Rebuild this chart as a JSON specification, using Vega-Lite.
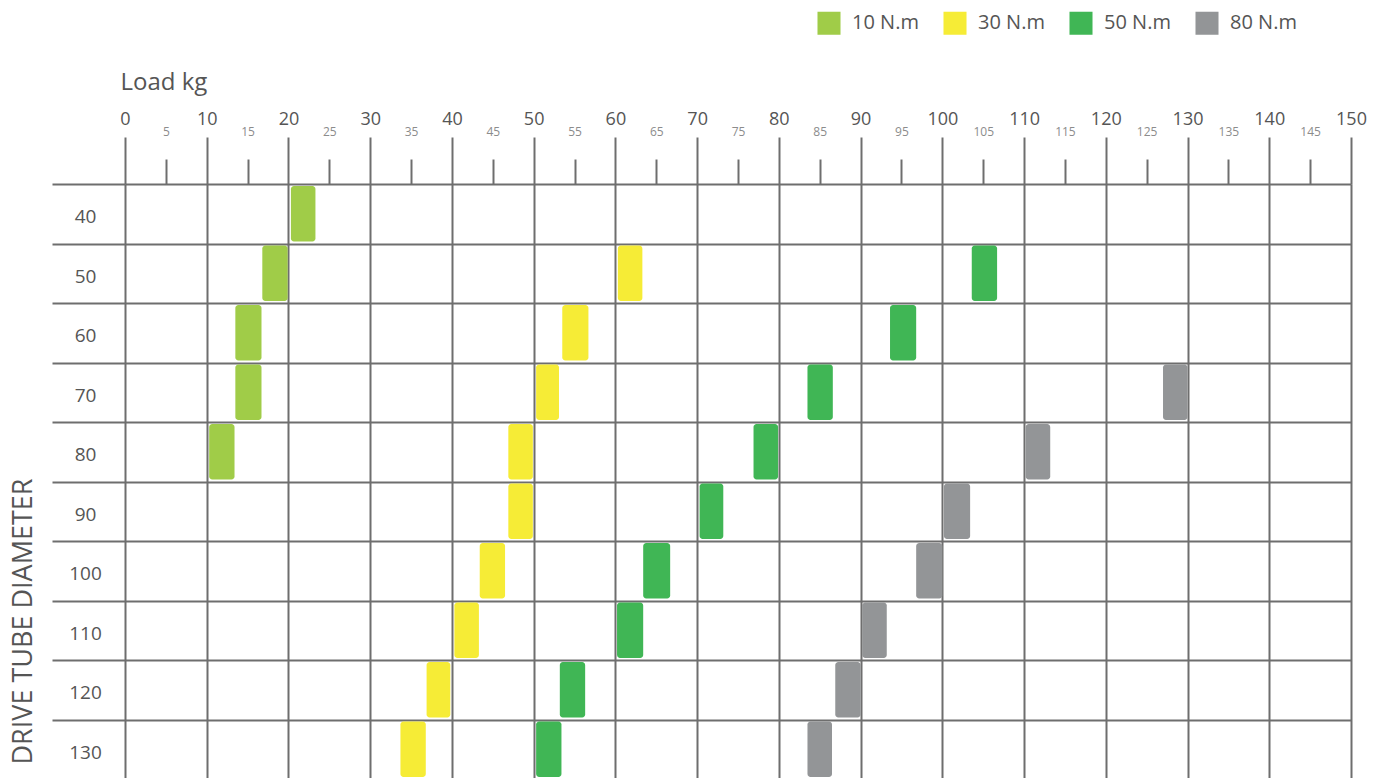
{
  "$schema": "https://vega.github.io/schema/vega-lite/v6.json",
  "width": 1226,
  "height": 595,
  "autosize": {"type": "none"},
  "padding": {"left": 125, "top": 184, "right": 30, "bottom": 0},
  "background": "white",
  "config": {"view": {"stroke": null}, "font": "Open Sans"},
  "data": {
    "values": [
      {"diameter": 40, "torque": "10 N.m", "start": 20.3, "end": 23.3},
      {"diameter": 50, "torque": "10 N.m", "start": 16.8, "end": 19.9},
      {"diameter": 50, "torque": "30 N.m", "start": 60.3, "end": 63.3},
      {"diameter": 50, "torque": "50 N.m", "start": 103.6, "end": 106.7},
      {"diameter": 60, "torque": "10 N.m", "start": 13.5, "end": 16.7},
      {"diameter": 60, "torque": "30 N.m", "start": 53.5, "end": 56.7},
      {"diameter": 60, "torque": "50 N.m", "start": 93.6, "end": 96.8},
      {"diameter": 70, "torque": "10 N.m", "start": 13.5, "end": 16.7},
      {"diameter": 70, "torque": "30 N.m", "start": 50.3, "end": 53.1},
      {"diameter": 70, "torque": "50 N.m", "start": 83.5, "end": 86.6},
      {"diameter": 70, "torque": "80 N.m", "start": 127.0, "end": 130.0},
      {"diameter": 80, "torque": "10 N.m", "start": 10.3, "end": 13.4},
      {"diameter": 80, "torque": "30 N.m", "start": 46.9, "end": 49.9},
      {"diameter": 80, "torque": "50 N.m", "start": 76.9, "end": 79.9},
      {"diameter": 80, "torque": "80 N.m", "start": 110.2, "end": 113.2},
      {"diameter": 90, "torque": "30 N.m", "start": 46.9, "end": 49.9},
      {"diameter": 90, "torque": "50 N.m", "start": 70.3, "end": 73.2},
      {"diameter": 90, "torque": "80 N.m", "start": 100.2, "end": 103.4},
      {"diameter": 100, "torque": "30 N.m", "start": 43.4, "end": 46.5},
      {"diameter": 100, "torque": "50 N.m", "start": 63.4, "end": 66.7},
      {"diameter": 100, "torque": "80 N.m", "start": 96.8, "end": 100.0},
      {"diameter": 110, "torque": "30 N.m", "start": 40.3, "end": 43.3},
      {"diameter": 110, "torque": "50 N.m", "start": 60.2, "end": 63.4},
      {"diameter": 110, "torque": "80 N.m", "start": 90.2, "end": 93.2},
      {"diameter": 120, "torque": "30 N.m", "start": 36.9, "end": 39.8},
      {"diameter": 120, "torque": "50 N.m", "start": 53.2, "end": 56.3},
      {"diameter": 120, "torque": "80 N.m", "start": 86.9, "end": 90.0},
      {"diameter": 130, "torque": "30 N.m", "start": 33.7, "end": 36.8},
      {"diameter": 130, "torque": "50 N.m", "start": 50.3, "end": 53.4},
      {"diameter": 130, "torque": "80 N.m", "start": 83.5, "end": 86.5}
    ]
  },
  "mark": {"type": "bar", "cornerRadius": 3, "height": {"band": 0.93}},
  "encoding": {
    "y": {
      "field": "diameter",
      "type": "ordinal",
      "scale": {"paddingInner": 0, "paddingOuter": 0},
      "axis": {
        "orient": "left",
        "title": "DRIVE TUBE DIAMETER",
        "titleFontSize": 27,
        "titleFontWeight": "normal",
        "titleColor": "#555555",
        "titleAngle": 270,
        "titleAlign": "left",
        "titleBaseline": "middle",
        "titleX": -102,
        "titleY": 580,
        "tickBand": "extent",
        "grid": true,
        "gridColor": "#6e6e6e",
        "gridWidth": 2,
        "gridOpacity": 1,
        "ticks": true,
        "tickSize": 73,
        "tickColor": "#6e6e6e",
        "tickWidth": 2,
        "domain": false,
        "labelPadding": -33,
        "labelAlign": "center",
        "labelBaseline": "middle",
        "labelOffset": 3,
        "labelAngle": 0,
        "labelFontSize": 19,
        "labelColor": "#555555"
      }
    },
    "x": {
      "field": "start",
      "type": "quantitative",
      "scale": {"domain": [0, 150], "nice": false, "zero": false},
      "axis": {
        "orient": "top",
        "values": [0, 5, 10, 15, 20, 25, 30, 35, 40, 45, 50, 55, 60, 65, 70, 75, 80, 85, 90, 95, 100, 105, 110, 115, 120, 125, 130, 135, 140, 145, 150],
        "title": "Load kg",
        "titleFontSize": 24,
        "titleFontWeight": "normal",
        "titleColor": "#555555",
        "titleAnchor": "start",
        "titleAlign": "left",
        "titleBaseline": "alphabetic",
        "titleX": -5,
        "titleY": -95,
        "grid": true,
        "gridColor": "#6e6e6e",
        "gridWidth": 2,
        "gridOpacity": {"condition": {"test": "datum.value % 10 === 0", "value": 1}, "value": 0},
        "ticks": true,
        "tickColor": "#6e6e6e",
        "tickWidth": 2,
        "tickSize": {"condition": {"test": "datum.value % 10 === 0", "value": 47}, "value": 25},
        "domain": false,
        "labelFontSize": {"condition": {"test": "datum.value % 10 === 0", "value": 18}, "value": 12},
        "labelColor": {"condition": {"test": "datum.value % 10 === 0", "value": "#555555"}, "value": "#8c8c8c"},
        "labelPadding": {"condition": {"test": "datum.value % 10 === 0", "value": 13}, "value": 24},
        "labelBaseline": "alphabetic",
        "labelAngle": 0,
        "labelFlush": false,
        "labelOverlap": false
      }
    },
    "x2": {"field": "end"},
    "color": {
      "field": "torque",
      "type": "nominal",
      "scale": {
        "domain": ["10 N.m", "30 N.m", "50 N.m", "80 N.m"],
        "range": ["#a0cc48", "#f6ec36", "#40b655", "#939597"]
      },
      "legend": {
        "title": null,
        "orient": "none",
        "direction": "horizontal",
        "columns": 4,
        "legendX": 692,
        "legendY": -173,
        "symbolType": "square",
        "symbolSize": 530,
        "symbolStrokeWidth": 0,
        "symbolOpacity": 1,
        "labelFontSize": 20,
        "labelColor": "#555555",
        "labelOffset": 11,
        "columnPadding": 24
      }
    }
  }
}
